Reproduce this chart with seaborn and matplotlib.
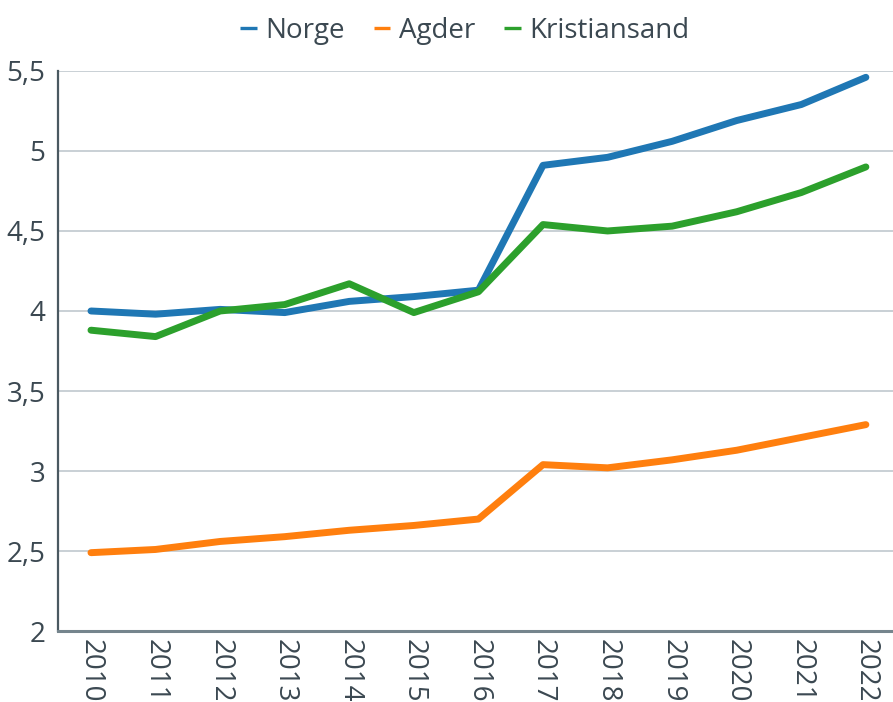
import matplotlib
matplotlib.use("Agg")
import matplotlib.pyplot as plt
import seaborn as sns
import pandas as pd

years = [str(y) for y in range(2010, 2023)]
norge = [4.00, 3.98, 4.01, 3.99, 4.06, 4.09, 4.13, 4.91, 4.96, 5.06, 5.19, 5.29, 5.46]
agder = [2.49, 2.51, 2.56, 2.59, 2.63, 2.66, 2.70, 3.04, 3.02, 3.07, 3.13, 3.21, 3.29]
kristiansand = [3.88, 3.84, 4.00, 4.04, 4.17, 3.99, 4.12, 4.54, 4.50, 4.53, 4.62, 4.74, 4.90]
series_names = ["Norge", "Agder", "Kristiansand"]
colors = ["#1f77b4", "#ff7f0e", "#2ca02c"]
y_ticks = [2, 2.5, 3, 3.5, 4, 4.5, 5, 5.5]

df = pd.DataFrame({"År": years, "Norge": norge, "Agder": agder, "Kristiansand": kristiansand})
long = df.melt(id_vars="År", var_name="Område", value_name="Verdi")

sns.set_theme(style="white")
plt.rcParams["font.family"] = ["Open Sans", "DejaVu Sans"]
text_color = "#3b4851"

fig = plt.figure(figsize=(8.93, 7.02), dpi=100)
ax = fig.add_axes([0.065, 0.101, 0.935, 0.798])

sns.lineplot(data=long, x="År", y="Verdi", hue="Område", hue_order=series_names,
             palette=colors, linewidth=5, ax=ax, sort=False,
             solid_capstyle="round", solid_joinstyle="round")

ax.set_ylim(2, 5.5)
ax.set_xlim(-0.51, 12.42)
ax.set_yticks(y_ticks)
ax.set_yticklabels([f"{t:g}".replace(".", ",") for t in y_ticks])
ax.yaxis.grid(True, color="#c5cdd2", linewidth=1.3)
ax.set_axisbelow(True)
ax.set_xlabel("")
ax.set_ylabel("")

for side in ["top", "right"]:
    ax.spines[side].set_visible(False)
ax.spines["left"].set_color("#4a5961")
ax.spines["left"].set_linewidth(1.6)
ax.spines["bottom"].set_color("#75858d")
ax.spines["bottom"].set_linewidth(2.2)

ax.tick_params(axis="both", length=0, labelsize=20, labelcolor=text_color)
ax.tick_params(axis="x", pad=6)
ax.tick_params(axis="y", pad=9)
plt.setp(ax.get_xticklabels(), rotation=270, va="top", ha="center")

handles, labels = ax.get_legend_handles_labels()
leg = ax.legend(handles, labels, loc="center", bbox_to_anchor=(0.487, 1.071),
                ncol=3, frameon=False, fontsize=20, handlelength=0.6,
                handletextpad=0.3, columnspacing=1.05, labelcolor=text_color)
for line in leg.get_lines():
    line.set_linewidth(2.4)
    line.set_solid_capstyle("butt")

fig.savefig("out.png", dpi=100)
